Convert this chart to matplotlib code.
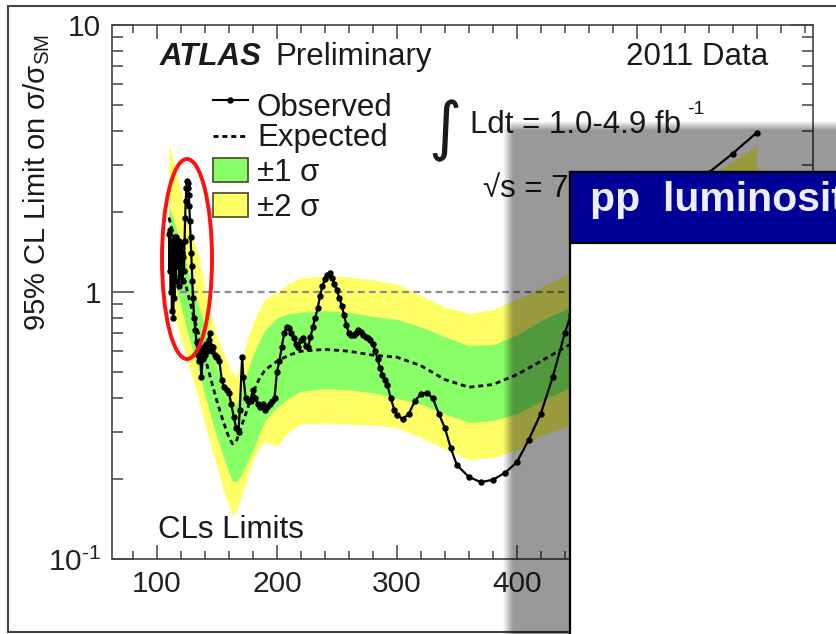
import numpy as np
import matplotlib
matplotlib.use('Agg')
import matplotlib.pyplot as plt
from matplotlib.patches import Rectangle, Ellipse
from matplotlib.ticker import MultipleLocator, LogLocator, NullFormatter, FixedLocator, FixedFormatter

plt.rcParams['font.family'] = ['Liberation Sans', 'DejaVu Sans']
plt.rcParams['mathtext.fontset'] = 'custom'
plt.rcParams['mathtext.rm'] = 'Liberation Sans'
plt.rcParams['mathtext.it'] = 'Liberation Sans:italic'
plt.rcParams['mathtext.bf'] = 'Liberation Sans:bold'
plt.rcParams['axes.unicode_minus'] = False

# ---------------- data ----------------
band_mass = [110, 115, 120, 125, 130, 135, 140, 145, 150, 155, 160, 163, 166, 170, 175, 180,
             185, 190, 200, 210, 220, 240, 260, 280, 300, 320, 340, 360, 380, 400, 420, 440,
             460, 480, 500, 520, 540, 560, 580, 600]
expected = [1.9, 1.55, 1.25, 1.02, 0.83, 0.69, 0.57, 0.47, 0.39, 0.33, 0.285, 0.27, 0.275, 0.31, 0.36, 0.42,
            0.47, 0.51, 0.55, 0.58, 0.60, 0.61, 0.60, 0.58, 0.57, 0.53, 0.47, 0.44, 0.45, 0.49, 0.55, 0.62,
            0.70, 0.80, 0.92, 1.05, 1.2, 1.4, 1.62, 1.9]
green_hi = [2.1, 1.8, 1.5, 1.25, 1.04, 0.88, 0.74, 0.62, 0.52, 0.45, 0.40, 0.38, 0.38, 0.42, 0.50, 0.58,
            0.65, 0.72, 0.80, 0.83, 0.84, 0.85, 0.84, 0.81, 0.79, 0.74, 0.68, 0.63, 0.635, 0.69, 0.78, 0.86,
            0.96, 1.1, 1.26, 1.43, 1.63, 1.9, 2.2, 2.55]
green_lo = [1.3, 1.08, 0.88, 0.72, 0.60, 0.50, 0.41, 0.34, 0.285, 0.245, 0.21, 0.195, 0.195, 0.205, 0.23, 0.255,
            0.29, 0.33, 0.37, 0.40, 0.425, 0.435, 0.43, 0.42, 0.40, 0.38, 0.35, 0.325, 0.33, 0.35, 0.39, 0.43,
            0.49, 0.56, 0.64, 0.73, 0.83, 0.97, 1.12, 1.3]
yellow_hi = [3.6, 2.95, 2.4, 1.95, 1.62, 1.35, 1.05, 0.82, 0.68, 0.60, 0.53, 0.50, 0.48, 0.55, 0.66, 0.76,
             0.86, 0.94, 1.0, 1.08, 1.13, 1.15, 1.14, 1.11, 1.07, 0.97, 0.88, 0.83, 0.86, 0.94, 1.04, 1.15,
             1.3, 1.5, 1.72, 1.97, 2.25, 2.7, 3.1, 3.5]
yellow_lo = [0.95, 0.80, 0.67, 0.56, 0.47, 0.39, 0.32, 0.265, 0.22, 0.185, 0.158, 0.145, 0.15, 0.17, 0.2, 0.235,
             0.26, 0.275, 0.265, 0.30, 0.32, 0.323, 0.32, 0.317, 0.31, 0.286, 0.258, 0.236, 0.24, 0.256, 0.29, 0.31,
             0.35, 0.4, 0.46, 0.52, 0.6, 0.7, 0.8, 0.9]

obs_mass = [110, 110.5, 111, 111.5, 112, 112.5, 113, 113.5, 114, 114.5, 115, 115.5, 116, 116.5, 117, 117.5,
            118, 118.5, 119, 119.5, 120, 120.5, 121, 121.5, 122, 122.5, 123, 123.5, 124, 124.5, 125, 125.5,
            126, 126.5, 127, 127.5, 128, 128.5, 129, 129.5, 130, 131, 132, 133, 134, 135, 136, 137, 138, 139,
            140, 141, 142, 143, 144, 145, 146, 147, 148, 149, 150, 152, 154, 156, 158, 160, 162, 164, 166, 168,
            169, 171, 172, 174, 176, 178, 180, 182, 184, 186, 188, 190, 192, 194, 196, 198, 200, 202, 204, 206,
            208, 210, 212, 214, 216, 218, 220, 222, 224, 226, 228, 230, 232, 234, 236, 238, 240, 242, 244, 246,
            248, 250, 252, 254, 256, 258, 260, 262, 264, 266, 268, 270, 272, 274, 276, 278, 280, 282, 284, 286,
            288, 290, 292, 295, 298, 300, 305, 310, 315, 320, 325, 330, 335, 340, 345, 350, 360, 370, 380, 390,
            400, 410, 420, 430, 440, 445, 460, 480, 500, 520, 540, 560, 580, 600]
observed = [1.65, 1.2, 1.7, 1.0, 1.55, 0.85, 1.5, 0.8, 1.3, 0.95, 1.6, 1.1, 1.6, 1.25, 1.5, 1.3,
            1.55, 1.05, 1.45, 1.15, 1.5, 1.2, 1.4, 1.1, 1.35, 1.2, 1.55, 1.9, 2.2, 2.45, 2.6, 2.55,
            2.45, 2.3, 2.1, 1.85, 1.6, 1.4, 1.25, 1.1, 0.95, 0.8, 0.72, 0.65, 0.58, 0.55, 0.6, 0.48, 0.56, 0.62,
            0.58, 0.64, 0.6, 0.66, 0.7, 0.63, 0.6, 0.62, 0.58, 0.57, 0.57, 0.55, 0.47, 0.44, 0.43, 0.42, 0.38, 0.34, 0.31, 0.30,
            0.36, 0.57, 0.48, 0.40, 0.39, 0.39, 0.43, 0.40, 0.38, 0.37, 0.38, 0.36, 0.37, 0.38, 0.39, 0.40, 0.50, 0.55, 0.62, 0.70,
            0.74, 0.73, 0.70, 0.67, 0.64, 0.62, 0.66, 0.67, 0.63, 0.62, 0.68, 0.74, 0.80, 0.87, 0.97, 1.05, 1.12, 1.16, 1.18, 1.13,
            1.07, 1.02, 0.95, 0.89, 0.82, 0.75, 0.70, 0.69, 0.69, 0.70, 0.72, 0.71, 0.69, 0.68, 0.67, 0.66, 0.64, 0.60, 0.56, 0.52,
            0.49, 0.47, 0.45, 0.40, 0.36, 0.345, 0.335, 0.35, 0.39, 0.415, 0.42, 0.40, 0.35, 0.31, 0.26, 0.225, 0.203, 0.194, 0.198, 0.21,
            0.23, 0.28, 0.35, 0.48, 0.70, 0.82, 1.15, 1.55, 1.9, 2.2, 2.45, 2.8, 3.3, 3.95]

y_ticks = [0.1, 1, 10]
y_tick_labels = ['$10^{\\text{-1}}$', '1', '10']
x_major_step = 100
x_minor_step = 20

# ---------------- figure ----------------
W, H = 837, 634
fig = plt.figure(figsize=(W / 100, H / 100), dpi=100)
fig.patch.set_facecolor('white')

ax = fig.add_axes([112 / W, 1 - 559 / H, (813 - 112) / W, (559 - 25) / H])
ax.set_yscale('log')
ax.set_xlim(62.5, 647)
ax.set_ylim(0.1, 10)

ax.fill_between(band_mass, yellow_lo, yellow_hi, color='#ffff66', lw=0, zorder=1)
ax.fill_between(band_mass, green_lo, green_hi, color='#88ff66', lw=0, zorder=2)
ax.plot(band_mass, expected, color='black', lw=2.0, dashes=(1.8, 1.4), zorder=3)
ax.hlines(1, band_mass[0], band_mass[-1], color='#8c8c8c', lw=1.6, linestyles=(0, (3, 2)), zorder=3)
ax.plot(obs_mass, observed, color='black', lw=1.6, marker='o', ms=3.6, zorder=4)

ax.xaxis.set_major_locator(MultipleLocator(x_major_step))
ax.xaxis.set_minor_locator(MultipleLocator(x_minor_step))
ax.yaxis.set_major_locator(FixedLocator(y_ticks))
ax.yaxis.set_major_formatter(FixedFormatter(y_tick_labels))
ax.yaxis.set_minor_locator(LogLocator(base=10, subs=np.arange(2, 10)))
ax.yaxis.set_minor_formatter(NullFormatter())
ax.tick_params(which='both', direction='in', top=True, right=True, color='#444444', width=1.1,
               labelcolor='#222222')
ax.tick_params(axis='x', which='major', length=10, pad=8, labelsize=21.5)
ax.tick_params(axis='x', which='minor', length=5.5)
ax.tick_params(axis='y', which='major', length=16, pad=8, labelsize=21.5)
ax.tick_params(axis='y', which='minor', length=8)
for s in ax.spines.values():
    s.set_linewidth(1.2)
    s.set_color('#444444')

# ---------------- overlay (pixel coords) ----------------
ov = fig.add_axes([0, 0, 1, 1], zorder=10)
ov.set_xlim(0, W)
ov.set_ylim(H, 0)
ov.axis('off')
ov.patch.set_visible(False)

# outer slide frame
ov.plot([W + 5, 8, 8, W + 5], [6, 6, 632, 632], color='#444444', lw=1.5, zorder=2,
        solid_joinstyle='miter')

tc = '#1a1a1a'
fs = 22.5
ov.text(37, 183, '95% CL Limit on σ/σ$_{\\rm SM}$', rotation=90, ha='center', va='center',
        fontsize=21, color=tc, zorder=3)
ov.text(160, 65, 'ATLAS', fontsize=fs, fontweight='bold', fontstyle='italic', color=tc, zorder=3)
ov.text(275, 65, 'Preliminary', fontsize=fs, color=tc, zorder=3)
ov.text(626, 65, '2011 Data', fontsize=fs, color=tc, zorder=3)
ov.text(428, 148, '∫', fontsize=46, family='DejaVu Sans', color=tc, zorder=3)
ov.text(470, 133, 'Ldt = 1.0-4.9 fb', fontsize=fs, color=tc, zorder=3)
ov.text(687, 114, '-1', fontsize=14, color=tc, zorder=3)
ov.text(483, 197, '√s = 7 TeV', fontsize=fs, color=tc, zorder=3)
ov.text(158, 538, 'CLs Limits', fontsize=fs, color=tc, zorder=3)

# legend
ov.plot([213, 230.5, 248], [100, 100, 100], color='black', lw=1.5, marker='o', ms=3.6,
        markevery=[1], zorder=3)
ov.plot([213, 248], [136, 136], color='black', lw=2.0, dashes=(1.8, 1.4), zorder=3)
ov.add_patch(Rectangle((213, 158), 35, 24, fc='#88ff66', ec='#555533', lw=1.3, zorder=3))
ov.add_patch(Rectangle((213, 193), 35, 24, fc='#ffff66', ec='#555533', lw=1.3, zorder=3))
ov.text(257, 116, 'Observed', fontsize=fs, color=tc, zorder=3)
ov.text(257, 146, 'Expected', fontsize=fs, color=tc, zorder=3)
ov.text(257, 181, '±1 σ', fontsize=fs, color=tc, zorder=3)
ov.text(257, 216, '±2 σ', fontsize=fs, color=tc, zorder=3)

# red ellipse
ov.add_patch(Ellipse((187, 259), 50, 200, fill=False, ec='#ff1111', lw=2.8, zorder=4))

# shadow
xx = np.arange(W) + 0.5
yy = np.arange(H) + 0.5
sx = np.clip((xx - 503) / 10, 0, 1)
sy = np.clip((yy - 121) / 9, 0, 1)
rgba = np.zeros((H, W, 4))
rgba[..., 3] = 0.4 * np.outer(sy, sx)
ov.imshow(rgba, extent=(0, W, H, 0), zorder=5, interpolation='nearest', aspect='auto')

# slide box
ov.add_patch(Rectangle((570, 172), 300, 500, fc='white', ec='black', lw=1.6, zorder=6))
ov.add_patch(Rectangle((570, 172), 300, 71, fc='#000099', ec='black', lw=1.6, zorder=6.5))
ov.text(590, 211, 'pp  luminosity', fontsize=29.5, fontweight='bold', color='#eeeef6', zorder=7,
        clip_on=True)

ov.set_xlim(0, W)
ov.set_ylim(H, 0)

fig.savefig('out.png', dpi=100)
